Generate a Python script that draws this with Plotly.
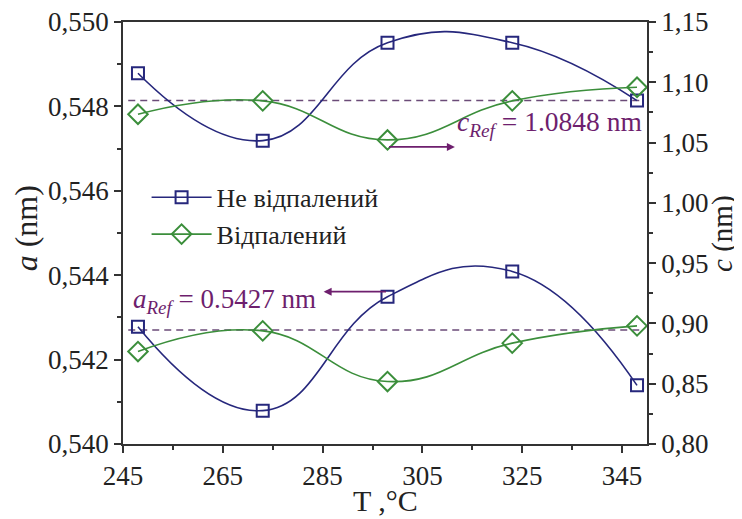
import plotly.graph_objects as go

T = [248, 273, 298, 323, 348]
a_unannealed = [0.54278, 0.54079, 0.54349, 0.54409, 0.54139]
a_annealed = [0.54219, 0.54268, 0.54148, 0.54239, 0.54280]
c_unannealed = [1.1075, 1.0516, 1.1328, 1.1328, 1.0848]
c_annealed = [1.0735, 1.0846, 1.0522, 1.0846, 1.0959]
a_ref = 0.5427
c_ref = 1.0848
names = ["Не відпалений", "Відпалений"]
x_ticks = [245, 265, 285, 305, 325, 345]
a_ticks = [0.540, 0.542, 0.544, 0.546, 0.548, 0.550]
a_ticktext = ["0,540", "0,542", "0,544", "0,546", "0,548", "0,550"]
c_ticks = [0.80, 0.85, 0.90, 0.95, 1.00, 1.05, 1.10, 1.15]
c_ticktext = ["0,80", "0,85", "0,90", "0,95", "1,00", "1,05", "1,10", "1,15"]

navy = "#26277c"
green = "#3b8e3b"
purple = "#6e1f6e"
dashc = "#6b4b78"
font = "Liberation Serif"

fig = go.Figure()

# c series (right axis)
fig.add_trace(go.Scatter(x=T, y=c_unannealed, yaxis="y2", mode="lines+markers", name=names[0],
                         line=dict(color=navy, width=1.6, shape="spline", smoothing=1.3),
                         marker=dict(symbol="square-open", size=12, color=navy, line=dict(width=2))))
fig.add_trace(go.Scatter(x=T, y=c_annealed, yaxis="y2", mode="lines+markers", name=names[1],
                         line=dict(color=green, width=1.6, shape="spline", smoothing=1.3),
                         marker=dict(symbol="diamond-open", size=15, color=green, line=dict(width=2))))
# a series (left axis)
fig.add_trace(go.Scatter(x=T, y=a_unannealed, yaxis="y", mode="lines+markers", name=names[0], showlegend=False,
                         line=dict(color=navy, width=1.6, shape="spline", smoothing=1.3),
                         marker=dict(symbol="square-open", size=12, color=navy, line=dict(width=2))))
fig.add_trace(go.Scatter(x=T, y=a_annealed, yaxis="y", mode="lines+markers", name=names[1], showlegend=False,
                         line=dict(color=green, width=1.6, shape="spline", smoothing=1.3),
                         marker=dict(symbol="diamond-open", size=15, color=green, line=dict(width=2))))

shapes = [
    dict(type="line", xref="paper", x0=0.01, x1=0.99, yref="y2", y0=c_ref, y1=c_ref,
         line=dict(color=dashc, width=1.5, dash="7px,5px"), layer="below"),
    dict(type="line", xref="paper", x0=0.01, x1=0.99, yref="y", y0=a_ref, y1=a_ref,
         line=dict(color=dashc, width=1.5, dash="7px,5px"), layer="below"),
]

annotations = [
    dict(x=349.4, y=1.0658, xref="x", yref="y2", xanchor="right", yanchor="middle", showarrow=False,
         text="<i>c</i><sub><i>Ref</i></sub> = 1.0848 nm", font=dict(family=font, size=27.5, color=purple)),
    dict(x=311.5, y=1.0464, xref="x", yref="y2", ax=298, ay=1.0464, axref="x", ayref="y2",
         text="", showarrow=True, arrowhead=2, arrowsize=1, arrowwidth=1.6, arrowcolor=purple),
    dict(x=246.6, y=0.54338, xref="x", yref="y", xanchor="left", yanchor="middle", showarrow=False,
         text="<i>a</i><sub><i>Ref</i></sub> = 0.5427 nm", font=dict(family=font, size=27, color=purple)),
    dict(x=285.2, y=0.54361, xref="x", yref="y", ax=298, ay=0.54361, axref="x", ayref="y",
         text="", showarrow=True, arrowhead=2, arrowsize=1, arrowwidth=1.6, arrowcolor=purple),
    # axis titles
    dict(x=0.5, y=-0.135, xref="paper", yref="paper", xanchor="center", yanchor="middle", showarrow=False,
         text="T ,°C", font=dict(family=font, size=30, color="#222")),
    dict(x=-0.186, y=0.51, xref="paper", yref="paper", xanchor="center", yanchor="middle", showarrow=False,
         text="<i>a</i> (nm)", textangle=-90, font=dict(family=font, size=32, color="#222")),
    dict(x=1.143, y=0.50, xref="paper", yref="paper", xanchor="center", yanchor="middle", showarrow=False,
         text="<i>c</i> (nm)", textangle=-90, font=dict(family=font, size=29, color="#222")),
]

axis_common = dict(showgrid=False, zeroline=False, showline=True, linecolor="#333", linewidth=1.5,
                   ticks="outside", ticklen=7, tickwidth=1.5, tickcolor="#333", automargin=False,
                   ticklabeloverflow="allow",
                   tickfont=dict(family=font, size=27, color="#222"))

def minor(dtick, tick0):
    return dict(ticks="outside", ticklen=4, tickwidth=1.5, tickcolor="#333", dtick=dtick, tick0=tick0)

# page body has an 8px margin, so the figure is sized/offset to land where the reference plot sits
fig.update_layout(
    width=734, height=511,
    margin=dict(l=115, r=95, t=14, b=75),
    paper_bgcolor="white", plot_bgcolor="white",
    font=dict(family=font, color="#222"),
    xaxis=dict(range=[245, 350], tickvals=x_ticks, mirror=True, minor=minor(10, 255), **axis_common),
    yaxis=dict(range=[0.540, 0.550], tickvals=a_ticks, ticktext=a_ticktext,
               minor=minor(0.001, 0.541), **axis_common),
    yaxis2=dict(range=[0.80, 1.15], overlaying="y", side="right", tickvals=c_ticks, ticktext=c_ticktext,
                minor=minor(0.025, 0.825), **axis_common),
    legend=dict(x=0.045, y=0.64, xanchor="left", yanchor="top", bgcolor="rgba(0,0,0,0)",
                font=dict(family=font, size=26, color="#222"), itemwidth=60, tracegroupgap=0),
    shapes=shapes, annotations=annotations,
)

fig.write_html("out.html")
